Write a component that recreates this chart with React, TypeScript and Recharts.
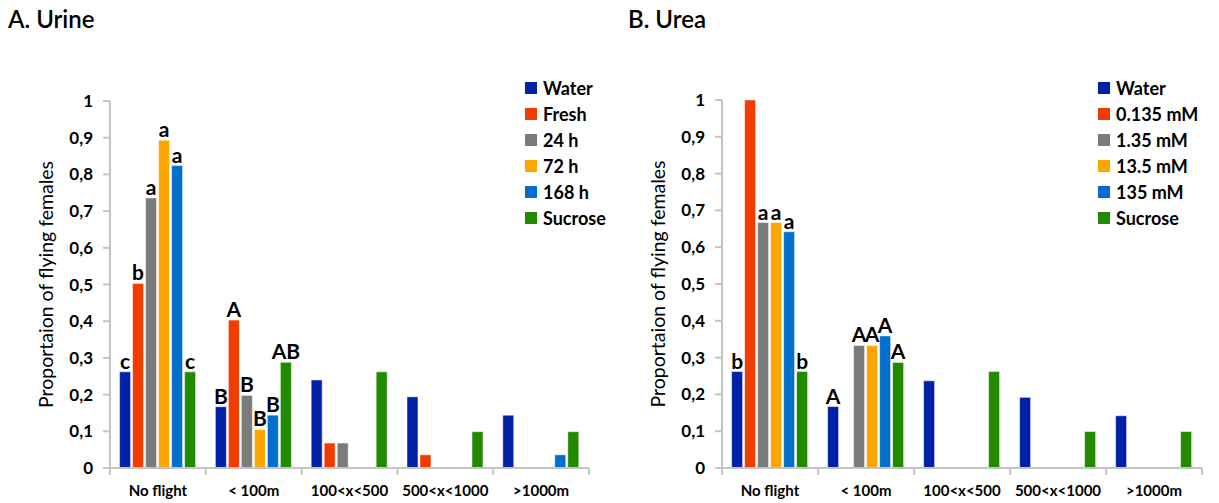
import React from 'react';
import { BarChart, Bar, XAxis, YAxis, Legend, LabelList, Label } from 'recharts';

// distance classes on the x axis
const categories = ['No flight', '< 100m', '100<x<500', '500<x<1000', '>1000m'];
const yTicks = [0, 0.1, 0.2, 0.3, 0.4, 0.5, 0.6, 0.7, 0.8, 0.9, 1];
const colors = ['#0021A8', '#F03C00', '#7B7B7B', '#FFA500', '#0070CC', '#228A00'];

// A. Urine
const urineNames = ['Water', 'Fresh', '24 h', '72 h', '168 h', 'Sucrose'];
const urineWater = [0.262, 0.167, 0.24, 0.194, 0.144];
const urineFresh = [0.503, 0.403, 0.068, 0.036, 0];
const urine24h = [0.736, 0.198, 0.068, 0, 0];
const urine72h = [0.893, 0.105, 0, 0, 0];
const urine168h = [0.824, 0.144, 0, 0, 0.036];
const urineSucrose = [0.262, 0.288, 0.262, 0.099, 0.099];
const urineWaterL = ['c', 'B', '', '', ''];
const urineFreshL = ['b', 'A', '', '', ''];
const urine24hL = ['a', 'B', '', '', ''];
const urine72hL = ['a', 'B', '', '', ''];
const urine168hL = ['a', 'B', '', '', ''];
const urineSucroseL = ['c', 'AB', '', '', ''];

// B. Urea
const ureaNames = ['Water', '0.135 mM', '1.35 mM', '13.5 mM', '135 mM', 'Sucrose'];
const ureaWater = [0.262, 0.167, 0.237, 0.192, 0.142];
const urea0135 = [1, 0, 0, 0, 0];
const urea135a = [0.667, 0.333, 0, 0, 0];
const urea135b = [0.667, 0.333, 0, 0, 0];
const urea135c = [0.642, 0.359, 0, 0, 0];
const ureaSucrose = [0.262, 0.287, 0.262, 0.099, 0.099];
const ureaWaterL = ['b', 'A', '', '', ''];
const urea0135L = ['', '', '', '', ''];
const urea135aL = ['a', 'A', '', '', ''];
const urea135bL = ['a', 'A', '', '', ''];
const urea135cL = ['a', 'A', '', '', ''];
const ureaSucroseL = ['b', 'A', '', '', ''];

const FONT = 'Lato, "Open Sans", sans-serif';

function buildRows(values: number[][], letters: string[][]) {
    return categories.map((name, i) => {
        const row: Record<string, string | number> = { name };
        values.forEach((v, s) => {
            row[`s${s}`] = v[i];
            row[`l${s}`] = letters[s][i];
        });
        return row;
    });
}

const fmt = (v: number) => Number(v.toFixed(1)).toString().replace('.', ',');

function XTick(props: any) {
    const { x, y, payload, index } = props;
    const half = payload.offset ?? 48;
    return (
        <g>
            <line x1={x - half} y1={y} x2={x - half} y2={y + 7} stroke="#C4C4C4" strokeWidth={2} />
            {index === categories.length - 1 && (
                <line x1={x + half} y1={y} x2={x + half} y2={y + 7} stroke="#C4C4C4" strokeWidth={2} />
            )}
            <text x={x} y={y + 28} textAnchor="middle" fontSize={15} fontWeight="bold" fill="#000" fontFamily={FONT}>
                {payload.value}
            </text>
        </g>
    );
}

// legend keeps the series order (Recharts would sort it by name)
function LegendBox({ names }: { names: string[] }) {
    return (
        <div style={{ fontFamily: FONT }}>
            {names.map((n, s) => (
                <div key={n} style={{ display: 'flex', alignItems: 'center', height: 26 }}>
                    <span style={{ width: 12, height: 12, background: colors[s], marginRight: 6, display: 'inline-block' }} />
                    <span style={{ fontSize: 18, fontWeight: 'bold', color: '#000' }}>{n}</span>
                </div>
            ))}
        </div>
    );
}

interface PanelProps {
    title: string;
    titleLeft: number;
    names: string[];
    values: number[][];
    letters: string[][];
    left: number;
    width: number;
    top: number;
    right: number;
    legendLeft: number;
}

function Panel({ title, titleLeft, names, values, letters, left, width, top, right, legendLeft }: PanelProps) {
    const data = buildRows(values, letters);
    return (
        <div style={{ position: 'absolute', left, top: 0, width, height: 503 }}>
            <div style={{ position: 'absolute', left: titleLeft, top: 4, fontFamily: FONT, fontSize: 24, fontWeight: 600, color: '#000', whiteSpace: 'nowrap' }}>
                {title}
            </div>
            <BarChart
                width={width}
                height={503}
                data={data}
                margin={{ top, right, left: 0, bottom: 5 }}
                barCategoryGap="10%"
                barGap={2}
            >
                <XAxis
                    dataKey="name"
                    height={30}
                    tickSize={0}
                    tickMargin={0}
                    tickLine={false}
                    axisLine={{ stroke: '#C4C4C4', strokeWidth: 2 }}
                    tick={<XTick />}
                    interval={0}
                />
                <YAxis
                    width={110}
                    domain={[0, 1]}
                    ticks={yTicks}
                    tickFormatter={fmt}
                    tickSize={7}
                    tickMargin={10}
                    axisLine={{ stroke: '#C4C4C4', strokeWidth: 2 }}
                    tickLine={{ stroke: '#C4C4C4', strokeWidth: 2 }}
                    tick={{ fill: '#000', fontSize: 17, fontWeight: 'bold', fontFamily: FONT }}
                >
                    <Label
                        content={({ viewBox }: any) => {
                            const cx = viewBox.x + 45;
                            const cy = viewBox.y + viewBox.height / 2;
                            return (
                                <text x={cx} y={cy} transform={`rotate(-90, ${cx}, ${cy})`} textAnchor="middle" dominantBaseline="central" fontSize={19.5} fill="#000" fontFamily={FONT}>
                                    Proportaion of flying females
                                </text>
                            );
                        }}
                    />
                </YAxis>
                <Legend
                    layout="vertical"
                    align="center"
                    verticalAlign="middle"
                    wrapperStyle={{ top: 75, left: legendLeft, width: 'auto', height: 'auto' }}
                    content={<LegendBox names={names} />}
                />
                {names.map((n, s) => (
                    <Bar key={n} dataKey={`s${s}`} name={n} fill={colors[s]} stroke="#ffffff" strokeOpacity={0.5} strokeWidth={1} isAnimationActive={false}>
                        <LabelList dataKey={`l${s}`} position="top" offset={3} fill="#000" fontSize={21} fontWeight="bold" fontFamily={FONT} />
                    </Bar>
                ))}
            </BarChart>
        </div>
    );
}

export default function App() {
    return (
        <div style={{ position: 'absolute', left: 0, top: 0, width: 1219, height: 503, background: '#fff' }}>
            <Panel
                title="A. Urine"
                titleLeft={8}
                names={urineNames}
                values={[urineWater, urineFresh, urine24h, urine72h, urine168h, urineSucrose]}
                letters={[urineWaterL, urineFreshL, urine24hL, urine72hL, urine168hL, urineSucroseL]}
                left={0}
                width={610}
                top={101}
                right={21}
                legendLeft={525}
            />
            <Panel
                title="B. Urea"
                titleLeft={16}
                names={ureaNames}
                values={[ureaWater, urea0135, urea135a, urea135b, urea135c, ureaSucrose]}
                letters={[ureaWaterL, urea0135L, urea135aL, urea135bL, urea135cL, ureaSucroseL]}
                left={612}
                width={607}
                top={100}
                right={17}
                legendLeft={486}
            />
        </div>
    );
}
